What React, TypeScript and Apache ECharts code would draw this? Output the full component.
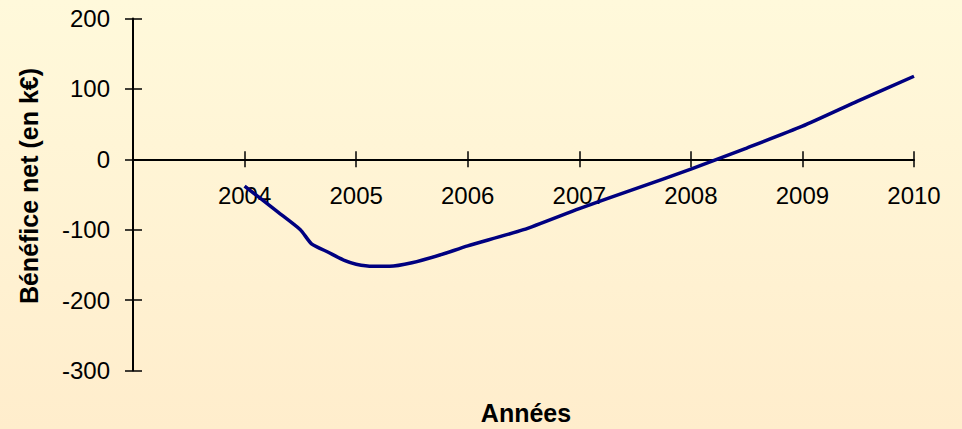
import React, { useEffect, useRef } from "react";
import * as echarts from "echarts";

// Data
const years: number[] = [2004.0, 2004.3, 2004.5, 2004.6, 2004.75, 2004.9, 2005.0, 2005.15, 2005.3, 2005.5, 2005.75, 2006.0, 2006.5, 2007.0, 2007.5, 2008.0, 2008.5, 2009.0, 2009.5, 2010.0];
const profit: number[] = [-38, -75, -100, -120, -132, -144, -149, -152, -152, -147, -136, -123, -100, -70, -42, -14, 16, 47, 83, 118];
const yearTicks: number[] = [2004, 2005, 2006, 2007, 2008, 2009, 2010];
const yTicks: number[] = [-300, -200, -100, 0, 100, 200];
const xTitle = "Années";
const yTitle = "Bénéfice net (en k€)";

const FONT = "'Liberation Sans', Arial, sans-serif";

export default function App() {
  const ref = useRef<HTMLDivElement>(null);
  useEffect(() => {
    if (!ref.current) return;
    const chart = echarts.init(ref.current, null, { renderer: "svg" });
    const seriesData = years.map((y, i) => [y, profit[i]]);
    const gridTop = 18.5;
    const gridBottomPx = 370.5;
    const zeroShift = -((gridBottomPx - gridTop) * (0 - yTicks[0])) / (yTicks[yTicks.length - 1] - yTicks[0]);
    chart.setOption({
      animation: false,
      backgroundColor: new echarts.graphic.LinearGradient(0, 0, 0, 1, [
        { offset: 0, color: "#FFF9DB" },
        { offset: 1, color: "#FFEDCC" },
      ]),
      grid: { left: 133, right: 48, top: gridTop, bottom: 429 - gridBottomPx, containLabel: false, outerBoundsMode: "none" },
      graphic: [
        {
          type: "text",
          x: 526,
          y: 413,
          style: { text: xTitle, fontFamily: FONT, fontSize: 25, fontWeight: "bold", fill: "#000", align: "center", verticalAlign: "middle" },
        },
        {
          type: "text",
          x: 29,
          y: 186,
          rotation: Math.PI / 2,
          style: { text: yTitle, fontFamily: FONT, fontSize: 25, fontWeight: "bold", fill: "#000", align: "center", verticalAlign: "middle" },
        },
      ],
      xAxis: [
        {
          type: "value",
          min: 2003,
          max: 2010,
          interval: 1,
          offset: zeroShift,
          axisLine: { show: true, onZero: false, lineStyle: { color: "#000", width: 2 } },
          axisTick: { show: true, inside: false, length: 8, lineStyle: { color: "#000", width: 1.5 } },
          axisLabel: {
            show: true,
            margin: 24,
            fontFamily: FONT,
            fontSize: 24,
            color: "#000",
            formatter: (v: number) => (yearTicks.indexOf(v) >= 0 ? String(v) : ""),
          },
          splitLine: { show: false },
        },
        {
          type: "value",
          min: 2003,
          max: 2010,
          interval: 1,
          position: "bottom",
          offset: zeroShift,
          axisLine: { show: false, onZero: false },
          axisTick: { show: true, inside: true, length: 8, lineStyle: { color: "#000", width: 1.5 } },
          axisLabel: { show: false },
          splitLine: { show: false },
        },
      ],
      yAxis: [
        {
          type: "value",
          min: yTicks[0],
          max: yTicks[yTicks.length - 1],
          interval: 100,
          axisLine: { show: true, onZero: false, lineStyle: { color: "#000", width: 2 } },
          axisTick: { show: true, inside: false, length: 8, lineStyle: { color: "#000", width: 1.5 } },
          axisLabel: { margin: 23, fontFamily: FONT, fontSize: 24, color: "#000" },
          splitLine: { show: false },
        },
        {
          type: "value",
          min: yTicks[0],
          max: yTicks[yTicks.length - 1],
          interval: 100,
          position: "left",
          axisLine: { show: false, onZero: false },
          axisTick: { show: true, inside: true, length: 9, lineStyle: { color: "#000", width: 1.5 } },
          axisLabel: { show: false },
          splitLine: { show: false },
        },
      ],
      series: [
        {
          type: "line",
          data: seriesData,
          xAxisIndex: 0,
          yAxisIndex: 0,
          showSymbol: false,
          symbol: "none",
          smooth: 0.2,
          lineStyle: { color: "#000080", width: 3.5 },
        },
      ],
    });
    return () => chart.dispose();
  }, []);
  return (
    <div
      ref={ref}
      style={{ position: "fixed", left: 0, top: 0, width: 962, height: 429 }}
    />
  );
}
